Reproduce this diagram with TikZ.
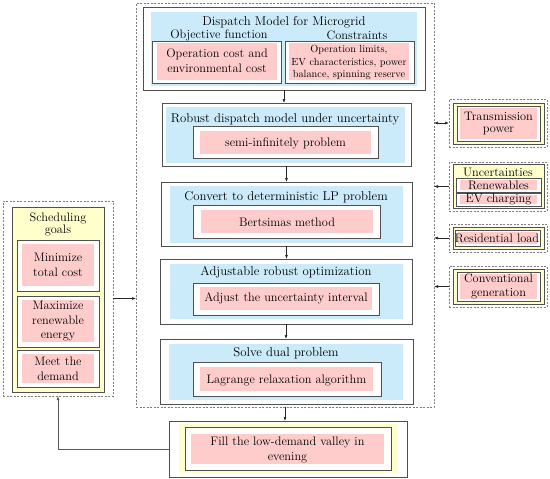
\documentclass[tikz,border=0pt]{standalone}
\usepackage{fontspec}
\usetikzlibrary{arrows.meta}
\definecolor{bluec}{RGB}{204,235,250}
\definecolor{pinkc}{RGB}{255,204,204}
\definecolor{yelc}{RGB}{255,255,204}
\definecolor{bordc}{RGB}{80,80,80}
\definecolor{dashc}{RGB}{125,125,125}
\begin{document}
\begin{tikzpicture}[x=1pt,y=-1pt,
  box/.style={rectangle, inner sep=0pt, outer sep=0pt},
  frame/.style={box, draw=bordc, line width=1pt, fill=white},
  dframe/.style={box, draw=dashc, line width=0.8pt, dash pattern=on 2pt off 1.5pt},
  bluebg/.style={box, fill=bluec},
  yelbg/.style={box, fill=yelc},
  yelframe/.style={box, fill=yelc, draw=bordc, line width=1pt},
  pinkbg/.style={box, fill=pinkc},
  txt/.style={inner sep=0pt, align=center, text=black, font=\fontsize{12.3}{15}\selectfont},
  ttl/.style={txt, font=\fontsize{12.8}{15}\selectfont},
  small/.style={txt, font=\fontsize{10.3}{12.5}\selectfont},
  arr/.style={-{Latex[length=4pt,width=3pt]}, draw=black!85, line width=0.6pt},
  wh/.style args={#1x#2}{minimum width=#1pt, minimum height=#2pt}
]
\useasboundingbox (0,0) rectangle (550,479);

% main dashed container
\node[dframe, wh=298x404] (main) at (285,205) {};

% box 1
\node[frame, wh=282x83] (b1) at (284,48.5) {};
\node[bluebg, wh=266x74] (b1bg) at (284,49) {};
\node[ttl] (b1t) at (284,22) {Dispatch Model for Microgrid};
\node[txt] (objt) at (219,35) {Objective function};
\node[txt] (cont) at (357,35) {Constraints};
\node[frame, wh=129x42] (objf) at (216.5,62) {};
\node[pinkbg, wh=120x37] (objp) at (217,61.5) {};
\node[txt] (objx) at (217,60.5) {Operation cost and\\environmental cost};
\node[frame, wh=129x42] (conf) at (349.5,62) {};
\node[pinkbg, wh=120x37] (conp) at (349,61.5) {};
\node[small] (conx) at (349,62.5) {Operation limits,\\EV characteristics, power\\balance, spinning reserve};

% box 2
\node[frame, wh=249x63] (b2) at (286.5,134.5) {};
\node[bluebg, wh=239x56] (b2bg) at (285.5,135) {};
\node[ttl] (b2t) at (285,119) {Robust dispatch model under uncertainty};
\node[frame, wh=185x32] (b2f) at (285.5,142) {};
\node[pinkbg, wh=171x23] (b2p) at (285.5,142.5) {};
\node[txt] (b2x) at (285.5,143) {semi-infinitely problem};

% box 3
\node[frame, wh=251x64] (b3) at (286.5,214) {};
\node[bluebg, wh=233x57] (b3bg) at (286.5,214.5) {};
\node[ttl] (b3t) at (286,197) {Convert to deterministic LP problem};
\node[frame, wh=187x33] (b3f) at (286.5,221.5) {};
\node[pinkbg, wh=172x23] (b3p) at (287,221.5) {};
\node[txt] (b3x) at (287,222) {Bertsimas method};

% box 4
\node[frame, wh=252x65] (b4) at (286,291.5) {};
\node[bluebg, wh=233x55] (b4bg) at (286.5,291.5) {};
\node[ttl] (b4t) at (286,272) {Adjustable robust optimization};
\node[frame, wh=186x32] (b4f) at (286,299) {};
\node[pinkbg, wh=172x23] (b4p) at (286,298.5) {};
\node[txt] (b4x) at (286,298.5) {Adjust the uncertainty interval};

% box 5
\node[frame, wh=253x65] (b5) at (286.5,371.5) {};
\node[bluebg, wh=234x56] (b5bg) at (286,372) {};
\node[ttl] (b5t) at (286,353) {Solve dual problem};
\node[frame, wh=188x34] (b5f) at (287,379) {};
\node[pinkbg, wh=173x24] (b5p) at (286.5,379) {};
\node[txt] (b5x) at (286.5,380) {Lagrange relaxation algorithm};

% box 6
\node[frame, wh=238x56] (b6) at (288,449) {};
\node[yelbg, wh=219x49] (b6y) at (288.5,448.5) {};
\node[frame, wh=206x43] (b6f) at (288,448.5) {};
\node[pinkbg, wh=193x30] (b6p) at (287.5,449) {};
\node[txt] (b6x) at (287.5,449.5) {Fill the low-demand valley in\\evening};

% scheduling goals
\node[dframe, wh=110x195] (sch) at (58,298.5) {};
\node[yelframe, wh=92x185] (schy) at (58,299.5) {};
\node[txt, font=\fontsize{12.3}{12}\selectfont] (scht) at (58,224) {Scheduling\\goals};
\node[frame, wh=82x51] (g1f) at (58,265.5) {};
\node[pinkbg, wh=72x42] (g1p) at (58,265) {};
\node[txt] (g1x) at (58,265) {Minimize\\total cost};
\node[frame, wh=82x51] (g2f) at (58,321.5) {};
\node[pinkbg, wh=72x42] (g2p) at (58,321) {};
\node[txt, font=\fontsize{12.3}{14.5}\selectfont] (g2x) at (58,321.5) {Maximize\\renewable\\energy};
\node[frame, wh=82x37] (g3f) at (58,368.5) {};
\node[pinkbg, wh=72x29] (g3p) at (58,368.5) {};
\node[txt] (g3x) at (58,369) {Meet the\\demand};

% right side: transmission power
\node[dframe, wh=98x48] (tr) at (498,123) {};
\node[yelframe, wh=91x41] (try) at (498.5,123.5) {};
\node[frame, wh=83x35] (trf) at (498.5,123.5) {};
\node[pinkbg, wh=77x31] (trp) at (498.5,123.5) {};
\node[txt, font=\fontsize{12.3}{12.5}\selectfont] (trx) at (498.5,123.5) {Transmission\\power};

% uncertainties
\node[dframe, wh=98x49] (unc) at (498,186.5) {};
\node[yelframe, wh=91x44] (uncy) at (498.5,186) {};
\node[txt] (unct) at (498,172) {Uncertainties};
\node[frame, wh=85x14] (renf) at (498.5,185) {};
\node[pinkbg, wh=77x10] (renp) at (498.5,185) {};
\node[txt] (renx) at (498.5,185.5) {Renewables};
\node[frame, wh=85x13] (evf) at (498.5,199.5) {};
\node[pinkbg, wh=77x9] (evp) at (498.5,199.5) {};
\node[txt] (evx) at (498.5,199.5) {EV charging};

% residential load
\node[dframe, wh=98x28] (res) at (498,238) {};
\node[yelframe, wh=91x22] (resy) at (498.5,238) {};
\node[frame, wh=85x16] (resf) at (497.5,238) {};
\node[pinkbg, wh=79x12] (resp) at (497.5,238) {};
\node[txt] (resx) at (497,238) {Residential load};

% conventional generation
\node[dframe, wh=98x41] (conv) at (498,286.5) {};
\node[yelframe, wh=91x35] (convy) at (498.5,286.5) {};
\node[frame, wh=83x29] (convf) at (498.5,286.5) {};
\node[pinkbg, wh=77x25] (convp) at (498.5,286.5) {};
\node[txt, font=\fontsize{12.3}{14}\selectfont] (convx) at (498.5,286) {Conventional\\generation};

% connectors
\draw[arr] (b1.south) -- (b1.south |- b2.north);
\draw[arr] (b2.south) -- (b2.south |- b3.north);
\draw[arr] (b3.south) -- (b3.south |- b4.north);
\draw[arr] (b4.south) -- (b4.south |- b5.north);
\draw[arr] (main.south) -- (main.south |- b6.north);
\draw[arr] (sch.east) -- (sch.east -| main.west);
\draw[arr, draw=black!65, line width=0.9pt] (b6.west) -| (sch.south);
\draw[arr, {Latex[length=4pt,width=3pt]}-{Latex[length=4pt,width=3pt]}] (tr.west) -- (tr.west -| main.east);
\draw[arr] (unc.west) -- (unc.west -| main.east);
\draw[arr] (res.west) -- (res.west -| main.east);
\draw[arr] (conv.west) -- (conv.west -| main.east);
\end{tikzpicture}
\end{document}
